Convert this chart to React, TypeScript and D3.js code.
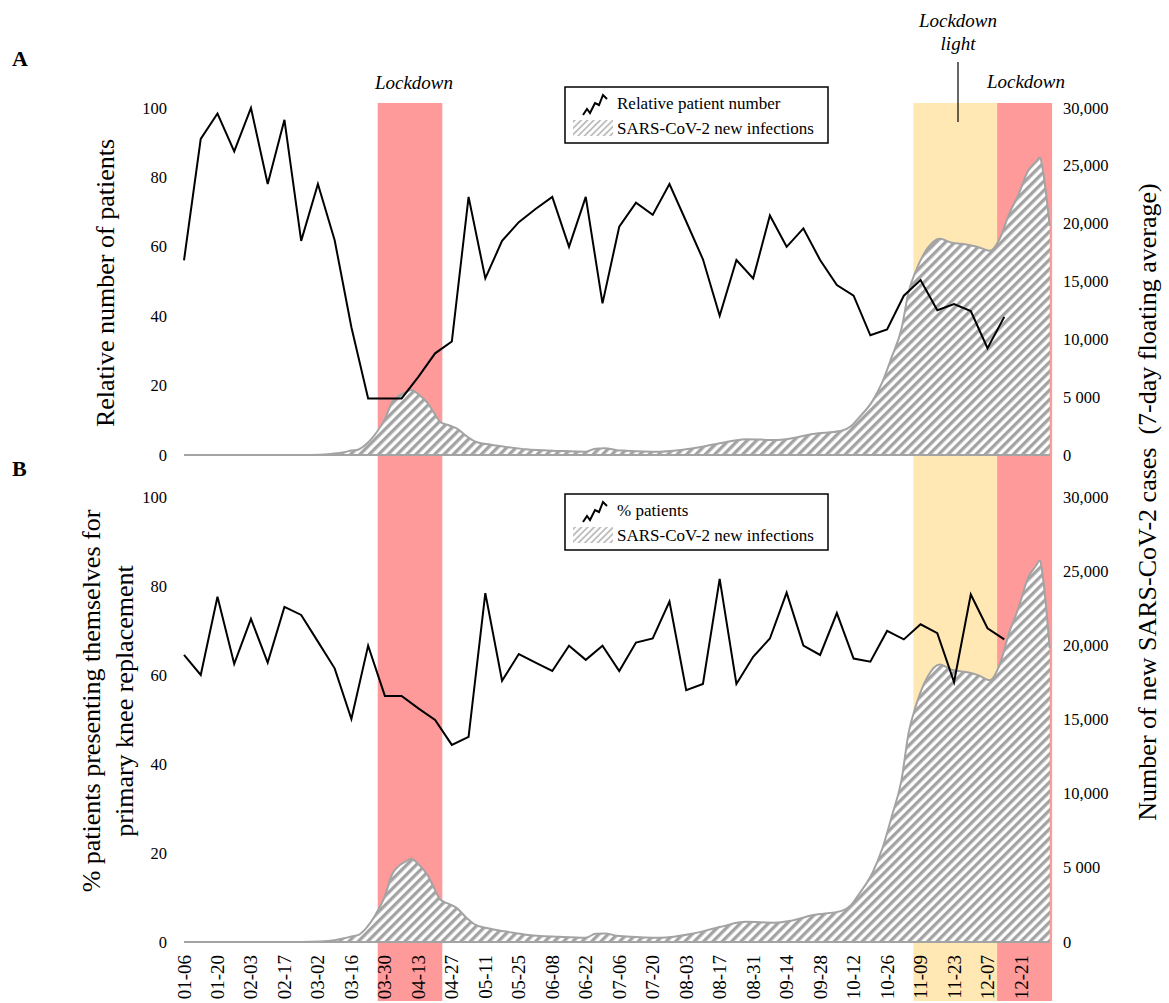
import React from 'react';
import * as d3 from 'd3';

// ---------- data ----------
const START_WEEK = '2020-01-06';
const xTickLabels = ['01-06', '01-20', '02-03', '02-17', '03-02', '03-16', '03-30', '04-13', '04-27', '05-11', '05-25', '06-08', '06-22', '07-06', '07-20', '08-03', '08-17', '08-31', '09-14', '09-28', '10-12', '10-26', '11-09', '11-23', '12-07', '12-21'];

// weekly values (week starting 01-06, one per week)
const relativePatients = [56.1, 91.1, 98.4, 87.5, 100, 78.1, 96.6, 61.7, 78.1, 61.9, 36.8, 16.3, 16.3, 16.3, 22.5, 29.3, 32.7, 74.4, 50.9, 61.7, 67.1, 70.9, 74.4, 60.0, 74.4, 43.7, 65.8, 72.7, 69.2, 78.1, 67.3, 56.4, 40.1, 56.2, 50.9, 69.0, 60.0, 65.3, 56.2, 49.0, 45.9, 34.5, 36.2, 45.9, 50.4, 41.7, 43.5, 41.5, 30.8, 39.8];
const percentPatients = [64.5, 60.0, 77.6, 62.5, 72.6, 62.8, 75.3, 73.5, 67.5, 61.5, 50.1, 66.6, 55.3, 55.3, 52.5, 49.9, 44.3, 46.1, 78.4, 58.7, 64.7, 62.8, 60.9, 66.6, 63.4, 66.6, 60.9, 67.3, 68.2, 76.5, 56.6, 58.0, 81.6, 58.0, 64.1, 68.2, 78.5, 66.6, 64.5, 73.9, 63.7, 63.0, 69.9, 68.0, 71.4, 69.4, 58.4, 78.1, 70.5, 68.0];

// SARS-CoV-2 new infections, 7-day floating average
const infectionDates = ['2020-01-06', '2020-02-24', '2020-03-03', '2020-03-09', '2020-03-13', '2020-03-16', '2020-03-19', '2020-03-22', '2020-03-27', '2020-03-30', '2020-04-02', '2020-04-05', '2020-04-08', '2020-04-10', '2020-04-13', '2020-04-17', '2020-04-20', '2020-04-22', '2020-04-26', '2020-04-29', '2020-05-03', '2020-05-07', '2020-05-14', '2020-05-21', '2020-05-28', '2020-06-11', '2020-06-22', '2020-06-26', '2020-06-30', '2020-07-05', '2020-07-09', '2020-07-23', '2020-08-06', '2020-08-17', '2020-08-28', '2020-09-09', '2020-09-16', '2020-09-25', '2020-10-07', '2020-10-11', '2020-10-14', '2020-10-20', '2020-10-24', '2020-10-28', '2020-11-01', '2020-11-04', '2020-11-07', '2020-11-12', '2020-11-17', '2020-11-22', '2020-11-28', '2020-12-03', '2020-12-08', '2020-12-12', '2020-12-16', '2020-12-20', '2020-12-24', '2020-12-27', '2020-12-29', '2020-12-30', '2021-01-02'];
const infectionCases = [0, 0, 30, 120, 250, 380, 480, 900, 2100, 3100, 4550, 5150, 5450, 5620, 5250, 4470, 3500, 2880, 2550, 2300, 1650, 1150, 865, 665, 490, 350, 290, 550, 580, 420, 375, 290, 580, 1010, 1360, 1300, 1440, 1815, 2100, 2500, 3170, 4700, 6300, 8500, 10900, 14100, 15900, 17900, 18700, 18350, 18200, 17990, 17650, 18660, 20820, 22550, 24570, 25300, 25720, 24800, 19800];

const leftTicks = [0, 20, 40, 60, 80, 100];
const rightTicks = [0, 5000, 10000, 15000, 20000, 25000, 30000];
const rightTickLabels = ['0', '5 000', '10,000', '15,000', '20,000', '25,000', '30,000'];

const bandStarts = ['2020-03-27', '2020-11-06', '2020-12-11'];
const bandEnds = ['2020-04-23', '2020-12-11', '2021-01-03'];
const bandKinds = ['lockdown', 'light', 'lockdown'];

// ---------- layout ----------
const W = 1169;
const H = 1003;
const FONT = "'Liberation Serif','Times New Roman',Times,serif";
const RED = '#ff9a9a';
const YELLOW = '#ffe8b4';
const GRAY = '#a3a3a3';

const parse = d3.utcParse('%Y-%m-%d');
const start = parse(START_WEEK) as Date;
const x = d3
  .scaleUtc()
  .domain([start, parse('2021-01-02') as Date])
  .range([184, 184 + (362 * 16.74) / 7]);
const weekDate = (i: number) => d3.utcDay.offset(start, 7 * i);

const infection = infectionDates.map((d, i) => ({ date: parse(d) as Date, v: infectionCases[i] }));

type PanelProps = {
  top: number;
  bottom: number;
  values: number[];
  legendTop: number;
  legendLabel: string;
};

function Panel({ top, bottom, values, legendTop, legendLabel }: PanelProps) {
  const yL = d3.scaleLinear().domain([0, 100]).range([bottom, top]);
  const yR = d3.scaleLinear().domain([0, 30000]).range([bottom, top]);
  const area = d3
    .area<{ date: Date; v: number }>()
    .x((d) => x(d.date))
    .y0(yR(0))
    .y1((d) => yR(d.v))
    .curve(d3.curveMonotoneX);
  const topLine = d3
    .line<{ date: Date; v: number }>()
    .x((d) => x(d.date))
    .y((d) => yR(d.v))
    .curve(d3.curveMonotoneX);
  const line = d3
    .line<number>()
    .x((_, i) => x(weekDate(i)))
    .y((d) => yL(d));
  const lx = 565;
  const iconPts: [number, number][] = [
    [583, 22], [587, 16], [590, 20], [595, 10], [599, 12], [603, 2], [607, 6],
  ];
  const iconPath = d3.line()(iconPts.map(([a, b]) => [a, legendTop + 6 + b]));
  return (
    <g>
      <path d={area(infection) || ''} fill="url(#hatch)" stroke="none" />
      <path d={topLine(infection) || ''} fill="none" stroke={GRAY} strokeWidth={2} />
      <line x1={x.range()[0]} x2={x(infection[infection.length - 1].date)} y1={bottom} y2={bottom} stroke={GRAY} strokeWidth={2} />
      <path d={line(values) || ''} fill="none" stroke="#000" strokeWidth={2} strokeLinejoin="miter" />
      {leftTicks.map((t) => (
        <text key={'l' + t} x={167} y={yL(t)} textAnchor="end" dominantBaseline="central" fontSize={16.5} fontFamily={FONT}>
          {t}
        </text>
      ))}
      {rightTicks.map((t, i) => (
        <text key={'r' + t} x={1063} y={yR(t)} textAnchor="start" dominantBaseline="central" fontSize={16.5} fontFamily={FONT}>
          {rightTickLabels[i]}
        </text>
      ))}
      {/* legend */}
      <rect x={lx} y={legendTop} width={263} height={56} fill="#fff" stroke="#000" strokeWidth={1.5} />
      <path d={iconPath || ''} fill="none" stroke="#000" strokeWidth={2} />
      <text x={617} y={legendTop + 16} dominantBaseline="central" fontSize={17} fontFamily={FONT}>
        {legendLabel}
      </text>
      <rect x={573} y={legendTop + 33} width={40} height={16} fill="url(#hatchLight)" />
      <text x={617} y={legendTop + 41} dominantBaseline="central" fontSize={17} fontFamily={FONT}>
        SARS-CoV-2 new infections
      </text>
    </g>
  );
}

export default function App() {
  const bandTop = 103;
  const bandBottom = 1001;
  return (
    <svg
      width={W}
      height={H}
      viewBox={`0 0 ${W} ${H}`}
      style={{ position: 'absolute', left: 0, top: 0, background: '#fff', display: 'block' }}
    >
      <defs>
        <pattern id="hatch" patternUnits="userSpaceOnUse" width={6.6} height={6.6} patternTransform="rotate(45)">
          <rect width={6.6} height={6.6} fill="#fff" />
          <rect width={3.3} height={6.6} fill={GRAY} />
        </pattern>
        <pattern id="hatchLight" patternUnits="userSpaceOnUse" width={4.5} height={4.5} patternTransform="rotate(45)">
          <rect width={4.5} height={4.5} fill="#fff" />
          <rect width={1.8} height={4.5} fill="#bdbdbd" />
        </pattern>
      </defs>
      <rect width={W} height={H} fill="#fff" />

      {/* lockdown bands */}
      {bandStarts.map((s, i) => {
        const x0 = x(parse(s) as Date);
        const x1 = x(parse(bandEnds[i]) as Date);
        return (
          <rect key={'b' + i} x={x0} y={bandTop} width={x1 - x0} height={bandBottom - bandTop} fill={bandKinds[i] === 'light' ? YELLOW : RED} />
        );
      })}

      <Panel top={108} bottom={455} values={relativePatients} legendTop={87} legendLabel="Relative patient number" />
      <Panel top={497} bottom={942} values={percentPatients} legendTop={494} legendLabel="% patients" />

      {/* x-axis labels */}
      {xTickLabels.map((lab) => {
        const xx = x(parse('2020-' + lab) as Date);
        return (
          <text key={lab} transform={`translate(${xx},955) rotate(-90)`} textAnchor="end" dominantBaseline="central" fontSize={19} fontFamily={FONT}>
            {lab}
          </text>
        );
      })}

      {/* annotations */}
      <text x={414} y={89} textAnchor="middle" fontSize={19} fontStyle="italic" fontFamily={FONT}>Lockdown</text>
      <text x={958} y={27} textAnchor="middle" fontSize={19} fontStyle="italic" fontFamily={FONT}>Lockdown</text>
      <text x={958} y={50} textAnchor="middle" fontSize={19} fontStyle="italic" fontFamily={FONT}>light</text>
      <line x1={958} x2={958} y1={62} y2={122} stroke="#000" strokeWidth={1.2} />
      <text x={1026} y={88} textAnchor="middle" fontSize={19} fontStyle="italic" fontFamily={FONT}>Lockdown</text>

      {/* panel letters */}
      <text x={12} y={66} fontSize={22} fontWeight="bold" fontFamily={FONT}>A</text>
      <text x={12} y={476} fontSize={22} fontWeight="bold" fontFamily={FONT}>B</text>

      {/* axis titles */}
      <text transform="translate(114,283) rotate(-90)" textAnchor="middle" fontSize={26} fontFamily={FONT}>
        Relative number of patients
      </text>
      <text transform="translate(100,701) rotate(-90)" textAnchor="middle" fontSize={26} fontFamily={FONT}>
        % patients presenting themselves for
      </text>
      <text transform="translate(133,701) rotate(-90)" textAnchor="middle" fontSize={26} fontFamily={FONT}>
        primary knee replacement
      </text>
      <text transform="translate(1156,502) rotate(-90)" textAnchor="middle" fontSize={26} fontFamily={FONT} style={{ whiteSpace: 'pre' }}>
        {'Number of new SARS-CoV-2 cases  (7-day floating average)'}
      </text>
    </svg>
  );
}
